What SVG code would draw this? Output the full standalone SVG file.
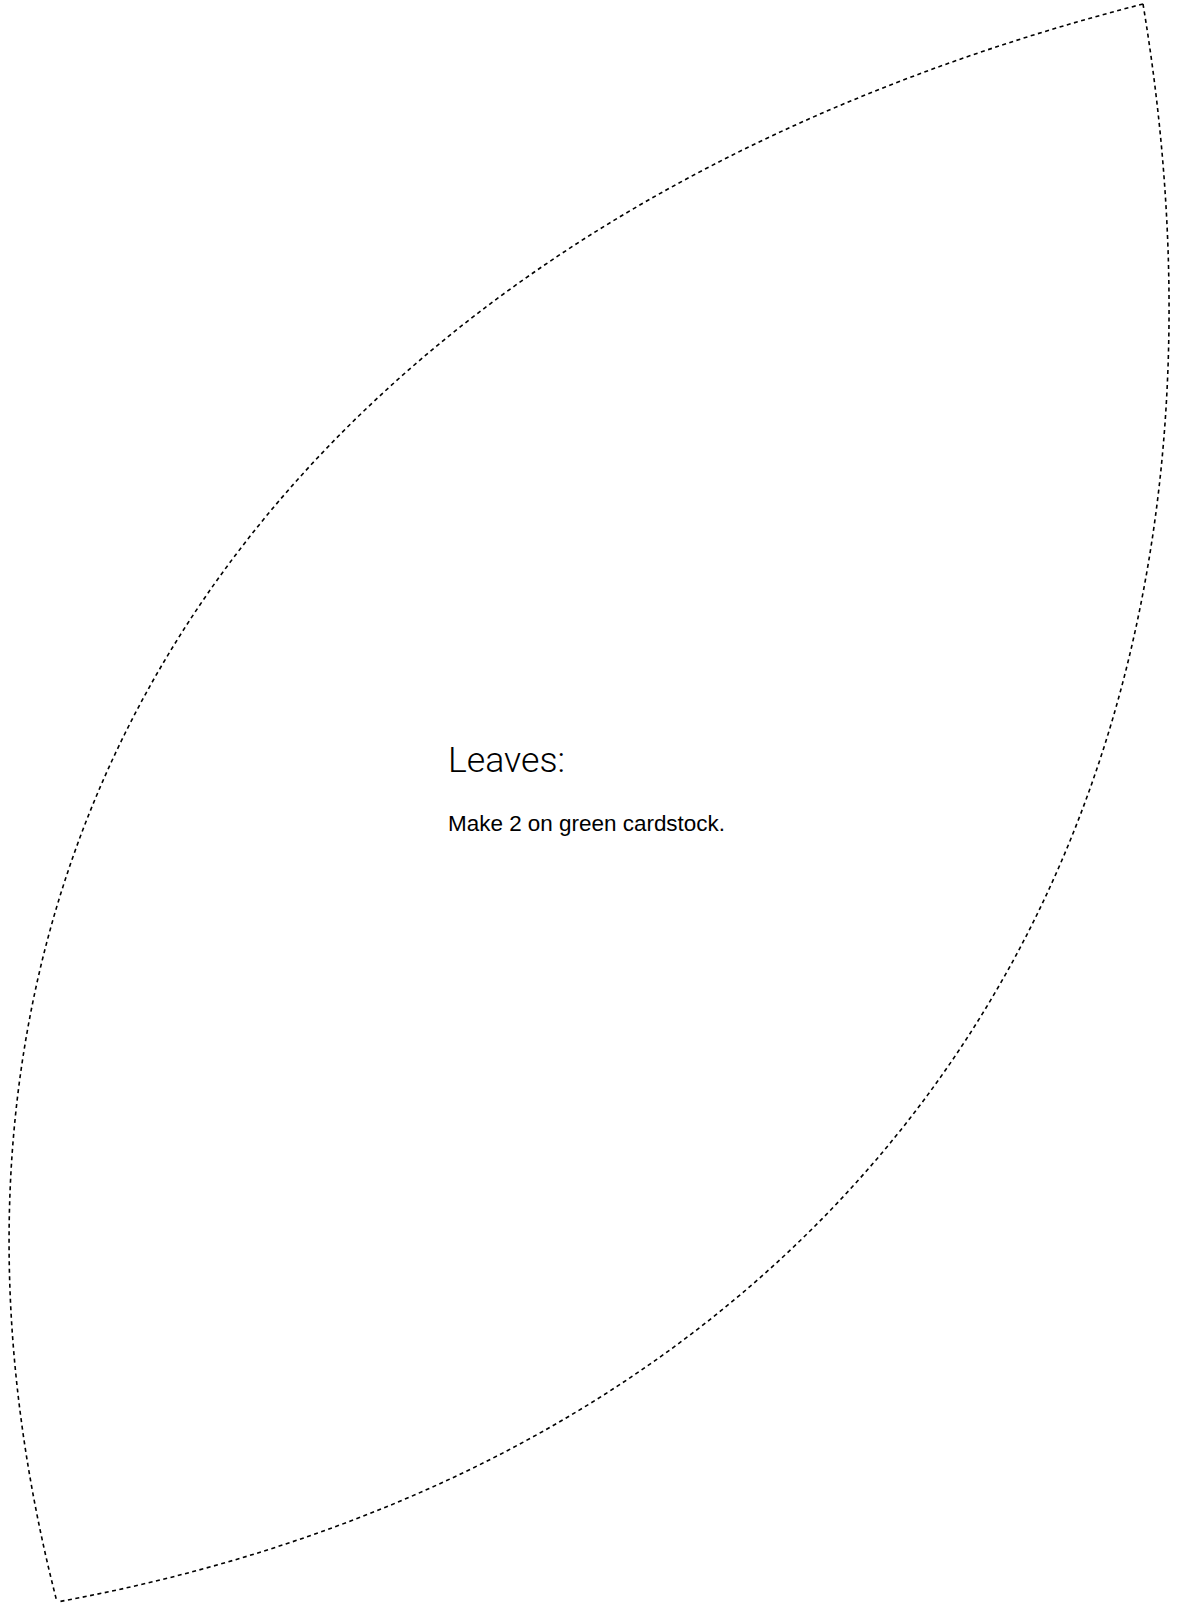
<svg xmlns="http://www.w3.org/2000/svg" width="1177" height="1606" viewBox="0 0 1177 1606">
<style>
.cut{fill:none;stroke:#000;stroke-width:1.6;stroke-dasharray:4 3.5}
.title{font-family:Roboto,"Liberation Sans",Arial,sans-serif;font-weight:300;font-size:35px;fill:#000}
.note{font-family:"Liberation Sans",Arial,sans-serif;font-size:22px;fill:#000}
</style>
<rect width="1177" height="1606" fill="#fff"/>
<g id="leaf">
<path class="cut" d="M1143,4 C295,222 -143,828 57,1602"/>
<path class="cut" d="M1143,4 C1284,852 843,1458 57,1602"/>
</g>
<g id="label">
<text class="title" x="448" y="772" textLength="117" lengthAdjust="spacingAndGlyphs">Leaves:</text>
<text class="note" x="448" y="831" textLength="277" lengthAdjust="spacingAndGlyphs">Make 2 on green cardstock.</text>
</g>
</svg>
